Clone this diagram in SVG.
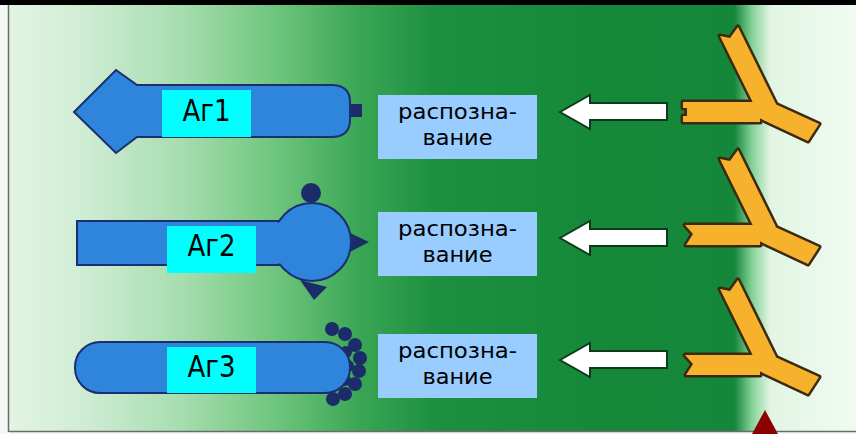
<svg xmlns="http://www.w3.org/2000/svg" width="856" height="434" viewBox="0 0 856 434">
  <defs>
    <linearGradient id="bg" gradientUnits="userSpaceOnUse" x1="0" y1="0" x2="856" y2="0">
      <stop offset="0" stop-color="#e4f5e4"/>
      <stop offset="0.09" stop-color="#d2eed6"/>
      <stop offset="0.21" stop-color="#a8ddb0"/>
      <stop offset="0.32" stop-color="#6fc67e"/>
      <stop offset="0.42" stop-color="#3aa655"/>
      <stop offset="0.51" stop-color="#1d8f40"/>
      <stop offset="0.70" stop-color="#16883a"/>
      <stop offset="0.858" stop-color="#15873a"/>
      <stop offset="0.878" stop-color="#82d096"/>
      <stop offset="0.90" stop-color="#e2f5e4"/>
      <stop offset="1" stop-color="#f0fbf1"/>
    </linearGradient>
    <!-- antibody arms (upper and lower), local origin at the stem/arm junction -->
    <g id="ab-arms">
      <polygon points="-37,-76 -27,-74 -19,-85 19,-8 1,1"/>
      <polygon points="-6,-19 62,12 51,29 2,6"/>
    </g>
    <polygon id="ab-stem-sq" points="-74,-10 3,-10 3,10 -74,10 -74,4 -70,4 -70,-4 -74,-4"/>
    <polygon id="ab-stem-v" points="-72,-10 3,-10 3,10 -71,10 -64,-1"/>
    <polygon id="white-arrow" points="0,0 30,-17 30,-9 107,-9 107,8 30,8 30,17"/>
  </defs>
  <style>
    .ag { fill: #2f84dc; stroke: #1b2f6e; stroke-width: 2; }
    .knob { fill: #1c2c6a; }
    .ag-label { fill: #00ffff; }
    .ag-text { font-family: "DejaVu Sans", sans-serif; font-size: 30px; fill: #000; text-anchor: middle; }
    .rec-box { fill: #99ccff; }
    .rec-text { font-family: "DejaVu Sans", sans-serif; font-size: 22px; fill: #000; text-anchor: middle; }
    .ab-out { fill: #3a2a10; stroke: #3a2a10; stroke-width: 5; stroke-linejoin: round; }
    .ab-fill { fill: #f6b22c; }
    .arrow { fill: #ffffff; stroke: #0d3b1a; stroke-width: 2; stroke-linejoin: miter; }
  </style>

  <!-- background panel -->
  <rect x="0" y="0" width="856" height="434" fill="#f4f8f4"/>
  <rect x="9" y="5" width="847" height="426" fill="url(#bg)"/>
  <rect x="0" y="0" width="856" height="5" fill="#000"/>
  <line x1="8.5" y1="5" x2="8.5" y2="432" stroke="#6b6b6b" stroke-width="1.5"/>
  <line x1="9" y1="431.5" x2="856" y2="431.5" stroke="#6b6b6b" stroke-width="1.5"/>

  <!-- antigen 1: arrow-shaped -->
  <g id="antigen1">
    <rect class="knob" x="348" y="104" width="14" height="13"/>
    <path class="ag" d="M137,85 L333,85 Q350,86 350,102 L350,120 Q350,136 333,137 L137,137 L116,153 L74,112 L116,70 Z"/>
    <rect class="ag-label" x="162" y="90" width="89" height="47"/>
    <text class="ag-text" x="206.5" y="121" textLength="48" lengthAdjust="spacingAndGlyphs">Аг1</text>
  </g>

  <!-- antigen 2: bar with knobbed sphere -->
  <g id="antigen2">
    <circle class="knob" cx="311" cy="193" r="10"/>
    <polygon class="knob" points="346,231 369,242 346,254"/>
    <polygon class="knob" points="300,280 327,287 314,300"/>
    <rect class="ag" x="77" y="221" width="210" height="44"/>
    <circle class="ag" cx="312" cy="242" r="39"/>
    <rect x="270" y="222.5" width="20" height="41" fill="#2f84dc"/>
    <rect class="ag-label" x="167" y="226" width="89" height="47"/>
    <text class="ag-text" x="211.5" y="256" textLength="48" lengthAdjust="spacingAndGlyphs">Аг2</text>
  </g>

  <!-- antigen 3: capsule with granular cap -->
  <g id="antigen3">
    <g class="knob">
      <circle cx="332" cy="329" r="7"/>
      <circle cx="345" cy="334" r="7"/>
      <circle cx="355" cy="345" r="7"/>
      <circle cx="360" cy="358" r="7"/>
      <circle cx="359" cy="371" r="7"/>
      <circle cx="355" cy="384" r="7"/>
      <circle cx="345" cy="394" r="7"/>
      <circle cx="333" cy="399" r="7"/>
      <circle cx="348" cy="366" r="6"/>
      <circle cx="346" cy="352" r="6"/>
      <circle cx="345" cy="380" r="6"/>
    </g>
    <rect class="ag" x="75" y="342" width="275" height="51" rx="25" ry="25"/>
    <rect class="ag-label" x="167" y="347" width="89" height="46"/>
    <text class="ag-text" x="211.5" y="377" textLength="48" lengthAdjust="spacingAndGlyphs">Аг3</text>
  </g>

  <!-- recognition labels -->
  <g id="recognition1">
    <rect class="rec-box" x="378" y="95" width="159" height="64"/>
    <text class="rec-text" x="457.5" y="118.5" textLength="119" lengthAdjust="spacingAndGlyphs">распозна-</text>
    <text class="rec-text" x="457.5" y="144.5" textLength="70" lengthAdjust="spacingAndGlyphs">вание</text>
  </g>
  <g id="recognition2">
    <rect class="rec-box" x="378" y="212" width="159" height="64"/>
    <text class="rec-text" x="457.5" y="235.5" textLength="119" lengthAdjust="spacingAndGlyphs">распозна-</text>
    <text class="rec-text" x="457.5" y="261.5" textLength="70" lengthAdjust="spacingAndGlyphs">вание</text>
  </g>
  <g id="recognition3">
    <rect class="rec-box" x="378" y="334" width="159" height="64"/>
    <text class="rec-text" x="457.5" y="357.5" textLength="119" lengthAdjust="spacingAndGlyphs">распозна-</text>
    <text class="rec-text" x="457.5" y="383.5" textLength="70" lengthAdjust="spacingAndGlyphs">вание</text>
  </g>

  <!-- antibodies -->
  <g id="antibody1" transform="translate(757,112)">
    <g class="ab-out"><use href="#ab-arms"/><use href="#ab-stem-sq"/></g>
    <g class="ab-fill"><use href="#ab-arms"/><use href="#ab-stem-sq"/></g>
  </g>
  <g id="antibody2" transform="translate(757,235)">
    <g class="ab-out"><use href="#ab-arms"/><use href="#ab-stem-v"/></g>
    <g class="ab-fill"><use href="#ab-arms"/><use href="#ab-stem-v"/></g>
  </g>
  <g id="antibody3" transform="translate(757,365)">
    <g class="ab-out"><use href="#ab-arms"/><use href="#ab-stem-v"/></g>
    <g class="ab-fill"><use href="#ab-arms"/><use href="#ab-stem-v"/></g>
  </g>

  <!-- connectors: recognition arrows from antibodies toward antigens -->
  <g id="connectors">
    <use class="arrow" href="#white-arrow" transform="translate(560,112)"/>
    <use class="arrow" href="#white-arrow" transform="translate(560,238)"/>
    <use class="arrow" href="#white-arrow" transform="translate(560,360)"/>
  </g>

  <!-- pointer marker at the bottom edge -->
  <polygon points="765,410 752,434 778,434" fill="#8b0000"/>
</svg>
